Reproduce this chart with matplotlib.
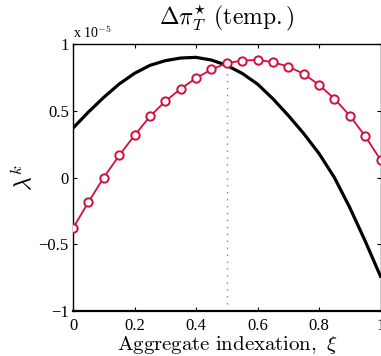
import numpy as np
import matplotlib
matplotlib.use("Agg")
import matplotlib.pyplot as plt

plt.rcParams['font.family'] = ['Liberation Serif', 'DejaVu Serif']
plt.rcParams['mathtext.fontset'] = 'cm'

# Data (values in units of 1e-5)
xi = [0.00, 0.05, 0.10, 0.15, 0.20, 0.25, 0.30, 0.35, 0.40, 0.45, 0.50,
      0.55, 0.60, 0.65, 0.70, 0.75, 0.80, 0.85, 0.90, 0.95, 1.00]
red_vals = [-0.38, -0.185, 0.0, 0.165, 0.315, 0.457, 0.571, 0.664, 0.744, 0.809, 0.856,
            0.876, 0.881, 0.864, 0.831, 0.777, 0.694, 0.590, 0.464, 0.310, 0.133]
black_vals = [0.37, 0.49, 0.60, 0.70, 0.78, 0.84, 0.875, 0.895, 0.90, 0.88, 0.84,
              0.78, 0.70, 0.59, 0.465, 0.33, 0.18, 0.0, -0.225, -0.475, -0.74]
xticks = [0, 0.2, 0.4, 0.6, 0.8, 1]
xticklabels = ['0', '0.2', '0.4', '0.6', '0.8', '1']
yticks = [-1, -0.5, 0, 0.5, 1]
yticklabels = ['\u22121', '\u22120.5', '0', '0.5', '1']
vline_x = 0.5

fig = plt.figure(figsize=(3.81, 3.56), dpi=100)
ax = fig.add_axes([73/381, 1-311/356, 307.5/381, (311-44)/356])

ax.plot(xi, black_vals, color='black', lw=2.3, zorder=3, solid_joinstyle='round')
ax.plot(xi, red_vals, color='#D0103A', lw=1.3, marker='o', ms=6,
        mfc='white', mec='#D0103A', mew=1.4, zorder=4)
ax.vlines(vline_x, -1, red_vals[xi.index(vline_x)] - 0.06, colors='#888888',
          linestyles=(0, (1, 4)), lw=1.0, zorder=2)

ax.set_xlim(0, 1)
ax.set_ylim(-1, 1)
ax.set_xticks(xticks)
ax.set_xticklabels(xticklabels)
ax.set_yticks(yticks)
ax.set_yticklabels(yticklabels)
ax.tick_params(direction='in', top=True, right=True, length=3, width=0.8,
               labelsize=12, pad=3)
ax.tick_params(axis='x', pad=5)
for s in ax.spines.values():
    s.set_linewidth(1.0)
ax.spines['bottom'].set_linewidth(1.6)

ax.set_xlabel(r'$\mathrm{Aggregate\ indexation,}\ \xi$', fontsize=15, labelpad=0)
ax.set_ylabel(r'$\lambda^{k}$', fontsize=17, labelpad=1)
ax.set_title(r'$\Delta\pi^{\star}_{T}\ \mathrm{(temp.)}$', fontsize=17, pad=14)
fig.text(73/381, 1-38/356, r'x 10$^{-5}$', fontsize=10, ha='left', va='baseline')

fig.savefig('out.png', dpi=100)
